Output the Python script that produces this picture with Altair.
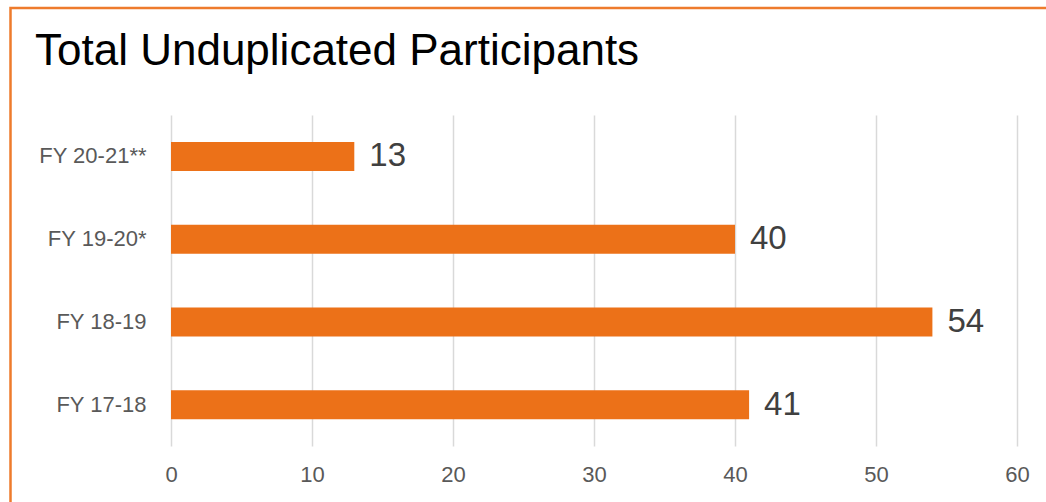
import altair as alt
import pandas as pd

categories = ["FY 20-21**", "FY 19-20*", "FY 18-19", "FY 17-18"]
values = [13, 40, 54, 41]
x_ticks = [0, 10, 20, 30, 40, 50, 60]

df = pd.DataFrame({"year": categories, "participants": values})

BAR = "#EC7118"

base = alt.Chart(df).encode(
    y=alt.Y("year:N", sort=categories,
            scale=alt.Scale(paddingInner=0, paddingOuter=0),
            axis=alt.Axis(title=None, domain=False, ticks=False, tickSize=0,
                          labelPadding=25, labelFontSize=22, labelColor="#595959",
                          labelFont="Liberation Sans", grid=False)),
    x=alt.X("participants:Q", scale=alt.Scale(domain=[0, 60], nice=False),
            axis=alt.Axis(title=None, values=x_ticks, domain=False, ticks=False, tickSize=0,
                          labelPadding=18, labelFontSize=22, labelColor="#595959",
                          labelFont="Liberation Sans", labelFlush=False,
                          grid=True, gridColor="#D9D9D9", gridWidth=1.5)),
)

bars = base.mark_bar(size=29, color=BAR)
labels = base.mark_text(align="left", baseline="middle", dx=15, fontSize=33,
                        font="Liberation Sans", color="#404040").encode(
    text=alt.Text("participants:Q"))

border = alt.Chart(pd.DataFrame({"k": [0]})).mark_rect(
    fill=None, stroke="#EE7B2C", strokeWidth=2.5, clip=False
).encode(x=alt.value(-160.5), x2=alt.value(900), y=alt.value(-107), y2=alt.value(420))

chart = alt.layer(border, bars, labels).properties(
    width=846, height=331,
    background="white",
    title=alt.TitleParams("Total Unduplicated Participants", anchor="start", dx=-136,
                          dy=102, fontSize=44, font="Liberation Sans", fontWeight="normal",
                          color="#000000", baseline="alphabetic", offset=0,
                          frame="group"),
    autosize=alt.AutoSizeParams(type="none"),
    padding={"left": 171, "top": 115, "right": 29, "bottom": 56},
).configure_view(strokeWidth=0, stroke="transparent")

chart.save("out.html", embed_options={"renderer": "svg", "actions": False})
